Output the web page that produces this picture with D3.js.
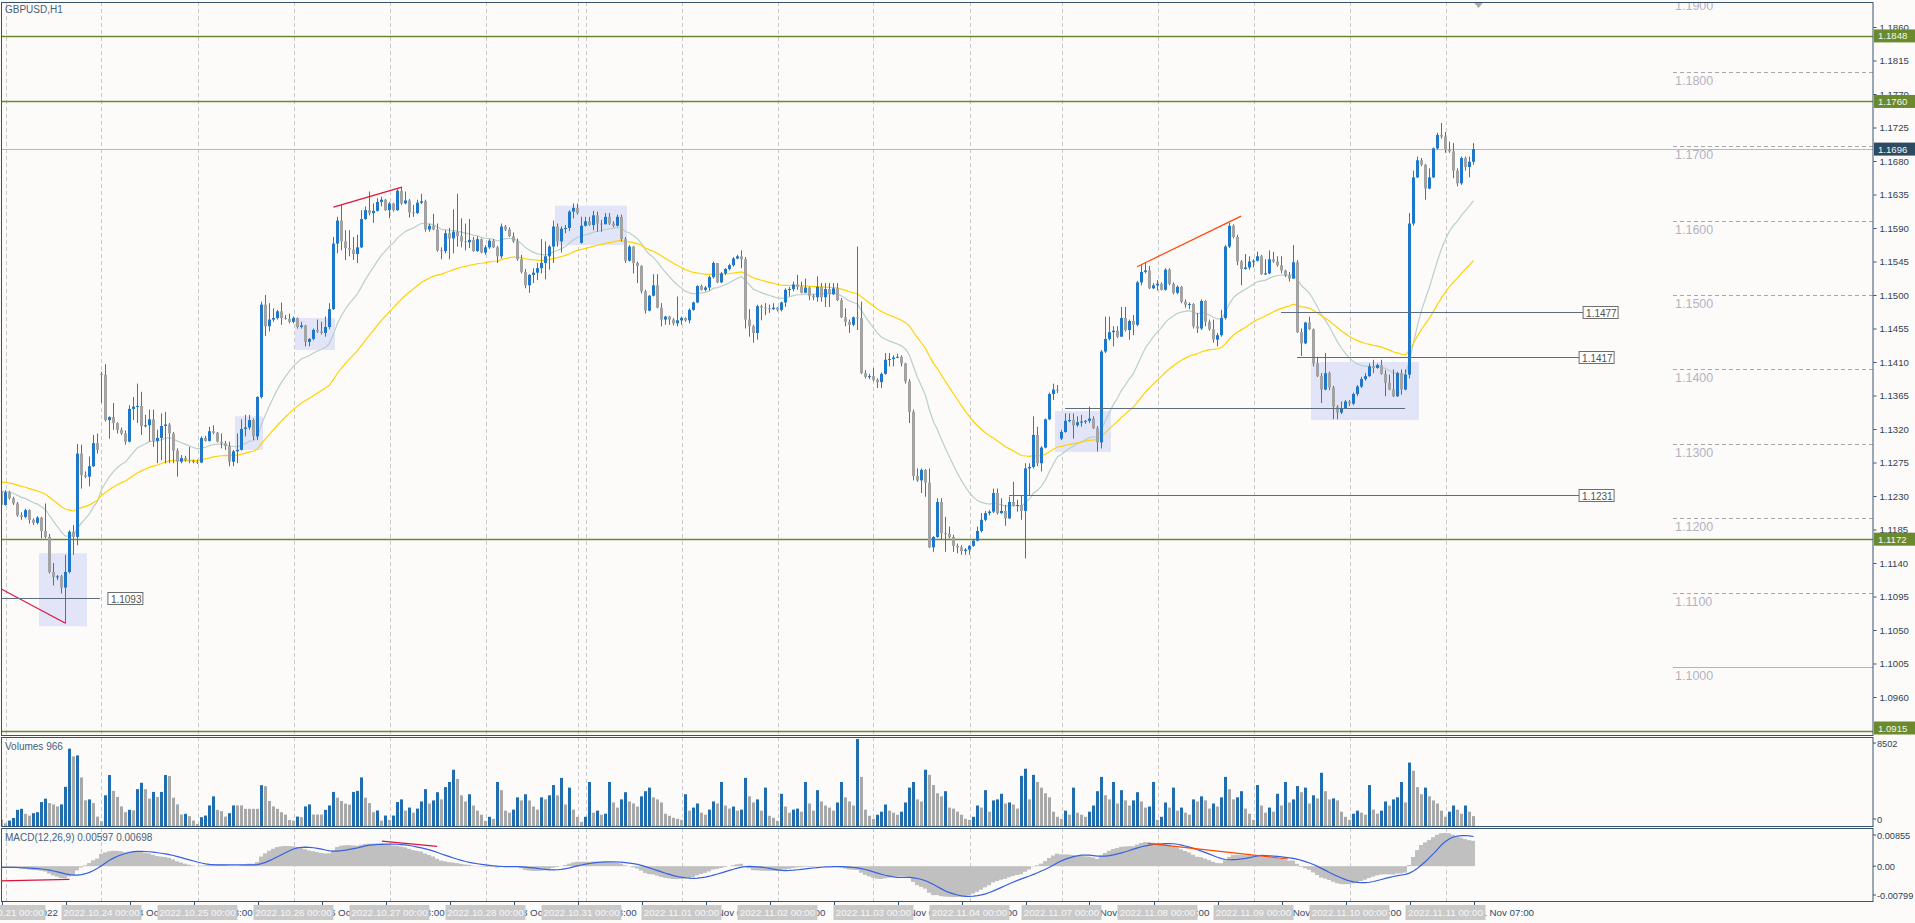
<!DOCTYPE html>
<html><head><meta charset="utf-8">
<script src="https://cdn.jsdelivr.net/npm/d3@7"></script>
<style>
html,body{margin:0;padding:0;background:#fdfbfa;overflow:hidden}
svg{display:block}
text{font-family:"Liberation Sans",Arial,sans-serif}
</style></head><body>
<svg id="c" width="1915" height="923"></svg>
<script>
// ---------------- DATA ----------------
const symbolTitle = "GBPUSD,H1";
const volTitle = "Volumes 966";
const macdTitle = "MACD(12,26,9) 0.00597 0.00698";
const firstOpen = 1.1236;
const gapOpens = {25:1.1394, 145:1.1570, 265:1.1307};
const closes = [
1.1218,1.1235,1.1227,1.1220,1.1204,1.1202,1.1211,1.1198,1.1194,1.1201,
1.1183,1.1175,1.1128,1.1121,1.1122,1.1107,1.1128,1.1182,1.1175,1.1287,
1.1258,1.1256,1.1270,1.1301,1.1292,1.1393,1.1332,1.1336,1.1328,1.1319,
1.1314,1.1303,1.1347,1.1350,1.1351,1.1324,1.1325,1.1333,1.1304,1.1308,
1.1324,1.1326,1.1314,1.1291,1.1276,1.1281,1.1278,1.1277,1.1276,1.1275,
1.1308,1.1304,1.1317,1.1315,1.1303,1.1301,1.1297,1.1276,1.1290,1.1292,
1.1320,1.1322,1.1332,1.1310,1.1363,1.1487,1.1458,1.1467,1.1469,1.1478,
1.1469,1.1468,1.1464,1.1469,1.1457,1.1459,1.1437,1.1441,1.1453,1.1451,
1.1449,1.1457,1.1481,1.1569,1.1600,1.1572,1.1563,1.1561,1.1555,1.1564,
1.1602,1.1614,1.1610,1.1613,1.1625,1.1628,1.1614,1.1623,1.1614,1.1640,
1.1623,1.1627,1.1611,1.1610,1.1624,1.1626,1.1588,1.1593,1.1588,1.1560,
1.1559,1.1583,1.1576,1.1585,1.1579,1.1572,1.1571,1.1574,1.1559,1.1575,
1.1557,1.1564,1.1573,1.1564,1.1552,1.1592,1.1588,1.1579,1.1572,1.1548,
1.1531,1.1513,1.1527,1.1530,1.1536,1.1543,1.1552,1.1565,1.1592,1.1572,
1.1589,1.1590,1.1612,1.1617,1.1610,1.1593,1.1599,1.1594,1.1607,1.1596,
1.1595,1.1605,1.1596,1.1593,1.1605,1.1575,1.1546,1.1565,1.1543,1.1539,
1.1505,1.1479,1.1499,1.1513,1.1483,1.1467,1.1471,1.1467,1.1462,1.1466,
1.1469,1.1466,1.1480,1.1490,1.1512,1.1507,1.1510,1.1524,1.1543,1.1517,
1.1529,1.1535,1.1540,1.1549,1.1552,1.1548,1.1467,1.1458,1.1449,1.1485,
1.1483,1.1482,1.1481,1.1483,1.1480,1.1490,1.1507,1.1508,1.1514,1.1511,
1.1503,1.1510,1.1499,1.1497,1.1511,1.1497,1.1508,1.1501,1.1509,1.1493,
1.1470,1.1464,1.1460,1.1470,1.1469,1.1395,1.1390,1.1391,1.1386,1.1383,
1.1394,1.1413,1.1414,1.1416,1.1417,1.1408,1.1384,1.1343,1.1257,1.1251,
1.1265,1.1248,1.1161,1.1175,1.1222,1.1180,1.1179,1.1175,1.1163,1.1161,
1.1156,1.1158,1.1163,1.1170,1.1183,1.1198,1.1207,1.1209,1.1234,1.1207,
1.1210,1.1200,1.1222,1.1217,1.1218,1.1210,1.1267,1.1269,1.1312,1.1274,
1.1295,1.1333,1.1367,1.1373,1.1372,1.1316,1.1331,1.1332,1.1325,1.1329,
1.1330,1.1331,1.1334,1.1321,1.1302,1.1424,1.1441,1.1450,1.1452,1.1444,
1.1469,1.1453,1.1465,1.1460,1.1517,1.1531,1.1533,1.1509,1.1513,1.1515,
1.1507,1.1534,1.1515,1.1503,1.1511,1.1491,1.1487,1.1488,1.1458,1.1455,
1.1492,1.1464,1.1454,1.1440,1.1446,1.1469,1.1565,1.1593,1.1578,1.1545,
1.1535,1.1537,1.1545,1.1546,1.1552,1.1528,1.1529,1.1548,1.1545,1.1540,
1.1533,1.1526,1.1522,1.1544,1.1450,1.1435,1.1463,1.1454,1.1408,1.1391,
1.1373,1.1395,1.1376,1.1350,1.1342,1.1347,1.1357,1.1354,1.1367,1.1377,
1.1387,1.1391,1.1404,1.1402,1.1406,1.1394,1.1382,1.1373,1.1364,1.1395,
1.1373,1.1393,1.1596,1.1658,1.1681,1.1675,1.1643,1.1658,1.1697,1.1715,
1.1713,1.1695,1.1693,1.1667,1.1650,1.1684,1.1672,1.1679,1.1696];
const highs = [
1.1238,1.1238,1.1237,1.1229,1.1222,1.1208,1.1213,1.1212,1.1200,1.1203,
1.1202,1.1220,1.1179,1.1140,1.1124,1.1124,1.1151,1.1184,1.1191,1.1300,
1.1299,1.1263,1.1283,1.1312,1.1314,1.1397,1.1407,1.1337,1.1355,1.1329,
1.1322,1.1318,1.1352,1.1363,1.1381,1.1370,1.1339,1.1346,1.1346,1.1319,
1.1341,1.1343,1.1328,1.1316,1.1294,1.1285,1.1284,1.1296,1.1279,1.1279,
1.1310,1.1311,1.1323,1.1325,1.1316,1.1314,1.1304,1.1303,1.1292,1.1314,
1.1333,1.1339,1.1339,1.1334,1.1364,1.1491,1.1500,1.1489,1.1482,1.1480,
1.1490,1.1473,1.1475,1.1471,1.1470,1.1464,1.1460,1.1442,1.1455,1.1467,
1.1464,1.1471,1.1489,1.1578,1.1605,1.1621,1.1587,1.1587,1.1578,1.1581,
1.1614,1.1619,1.1639,1.1623,1.1630,1.1632,1.1629,1.1625,1.1624,1.1642,
1.1645,1.1639,1.1629,1.1621,1.1628,1.1636,1.1628,1.1596,1.1609,1.1596,
1.1564,1.1587,1.1590,1.1615,1.1636,1.1603,1.1596,1.1602,1.1578,1.1579,
1.1576,1.1567,1.1575,1.1575,1.1566,1.1596,1.1594,1.1591,1.1584,1.1576,
1.1554,1.1535,1.1528,1.1536,1.1543,1.1575,1.1572,1.1567,1.1600,1.1596,
1.1592,1.1594,1.1614,1.1623,1.1623,1.1605,1.1605,1.1605,1.1613,1.1612,
1.1601,1.1610,1.1610,1.1599,1.1608,1.1608,1.1578,1.1567,1.1566,1.1545,
1.1540,1.1507,1.1500,1.1528,1.1528,1.1489,1.1472,1.1472,1.1469,1.1498,
1.1471,1.1470,1.1482,1.1491,1.1513,1.1514,1.1512,1.1526,1.1545,1.1542,
1.1531,1.1536,1.1542,1.1551,1.1554,1.1560,1.1551,1.1481,1.1460,1.1487,
1.1487,1.1489,1.1487,1.1489,1.1484,1.1491,1.1509,1.1511,1.1518,1.1527,
1.1518,1.1522,1.1511,1.1501,1.1525,1.1516,1.1516,1.1516,1.1516,1.1516,
1.1496,1.1482,1.1467,1.1471,1.1565,1.1491,1.1399,1.1394,1.1402,1.1388,
1.1396,1.1422,1.1422,1.1419,1.1421,1.1419,1.1409,1.1387,1.1346,1.1267,
1.1267,1.1266,1.1267,1.1176,1.1227,1.1227,1.1202,1.1189,1.1178,1.1166,
1.1164,1.1160,1.1164,1.1172,1.1189,1.1207,1.1210,1.1211,1.1240,1.1240,
1.1227,1.1218,1.1229,1.1249,1.1225,1.1231,1.1274,1.1274,1.1337,1.1323,
1.1297,1.1334,1.1369,1.1381,1.1379,1.1319,1.1341,1.1341,1.1341,1.1337,
1.1339,1.1332,1.1350,1.1337,1.1324,1.1426,1.1471,1.1471,1.1458,1.1458,
1.1484,1.1484,1.1467,1.1473,1.1519,1.1540,1.1543,1.1539,1.1516,1.1520,
1.1517,1.1536,1.1536,1.1517,1.1513,1.1512,1.1494,1.1490,1.1489,1.1476,
1.1494,1.1493,1.1467,1.1467,1.1449,1.1480,1.1567,1.1597,1.1595,1.1581,
1.1547,1.1555,1.1552,1.1548,1.1558,1.1554,1.1548,1.1560,1.1558,1.1552,
1.1552,1.1534,1.1531,1.1567,1.1547,1.1455,1.1464,1.1471,1.1455,1.1417,
1.1395,1.1422,1.1397,1.1378,1.1352,1.1357,1.1359,1.1359,1.1369,1.1379,
1.1390,1.1395,1.1408,1.1413,1.1408,1.1413,1.1399,1.1393,1.1400,1.1397,
1.1400,1.1400,1.1610,1.1667,1.1686,1.1684,1.1676,1.1670,1.1698,1.1718,
1.1731,1.1719,1.1706,1.1704,1.1670,1.1686,1.1686,1.1686,1.1704];
const lows = [
1.1216,1.1217,1.1225,1.1218,1.1202,1.1198,1.1200,1.1193,1.1191,1.1192,
1.1173,1.1173,1.1126,1.1110,1.1117,1.1099,1.1059,1.1126,1.1151,1.1164,
1.1240,1.1254,1.1243,1.1269,1.1287,1.1355,1.1330,1.1307,1.1319,1.1314,
1.1312,1.1299,1.1302,1.1332,1.1328,1.1312,1.1322,1.1303,1.1296,1.1274,
1.1278,1.1274,1.1274,1.1274,1.1256,1.1274,1.1276,1.1274,1.1274,1.1273,
1.1274,1.1303,1.1303,1.1313,1.1302,1.1294,1.1292,1.1270,1.1270,1.1274,
1.1291,1.1310,1.1319,1.1305,1.1305,1.1361,1.1445,1.1451,1.1464,1.1467,
1.1460,1.1467,1.1462,1.1462,1.1455,1.1455,1.1431,1.1431,1.1439,1.1449,
1.1447,1.1444,1.1454,1.1480,1.1556,1.1560,1.1547,1.1552,1.1547,1.1543,
1.1563,1.1601,1.1607,1.1597,1.1612,1.1619,1.1613,1.1603,1.1612,1.1613,
1.1621,1.1622,1.1604,1.1605,1.1609,1.1622,1.1585,1.1585,1.1587,1.1558,
1.1548,1.1556,1.1548,1.1556,1.1565,1.1564,1.1560,1.1563,1.1558,1.1558,
1.1556,1.1554,1.1562,1.1563,1.1543,1.1549,1.1586,1.1578,1.1570,1.1546,
1.1529,1.1509,1.1503,1.1516,1.1520,1.1529,1.1521,1.1534,1.1543,1.1565,
1.1557,1.1583,1.1586,1.1603,1.1608,1.1569,1.1592,1.1593,1.1587,1.1585,
1.1585,1.1595,1.1594,1.1591,1.1592,1.1572,1.1543,1.1545,1.1529,1.1516,
1.1502,1.1475,1.1478,1.1498,1.1482,1.1458,1.1460,1.1460,1.1459,1.1458,
1.1460,1.1464,1.1462,1.1479,1.1489,1.1506,1.1505,1.1506,1.1522,1.1516,
1.1516,1.1527,1.1533,1.1538,1.1548,1.1536,1.1455,1.1444,1.1436,1.1440,
1.1466,1.1473,1.1476,1.1480,1.1478,1.1478,1.1484,1.1498,1.1505,1.1507,
1.1502,1.1503,1.1493,1.1493,1.1491,1.1491,1.1484,1.1484,1.1500,1.1492,
1.1469,1.1458,1.1449,1.1458,1.1453,1.1394,1.1388,1.1387,1.1384,1.1375,
1.1375,1.1393,1.1404,1.1404,1.1415,1.1404,1.1381,1.1328,1.1251,1.1249,
1.1234,1.1229,1.1160,1.1155,1.1174,1.1171,1.1155,1.1173,1.1155,1.1153,
1.1151,1.1151,1.1151,1.1162,1.1169,1.1181,1.1196,1.1204,1.1207,1.1205,
1.1206,1.1190,1.1199,1.1216,1.1209,1.1198,1.1146,1.1231,1.1267,1.1270,
1.1263,1.1294,1.1332,1.1359,1.1368,1.1305,1.1315,1.1329,1.1307,1.1323,
1.1323,1.1327,1.1328,1.1320,1.1290,1.1294,1.1422,1.1439,1.1431,1.1442,
1.1444,1.1451,1.1440,1.1446,1.1458,1.1513,1.1529,1.1508,1.1508,1.1506,
1.1506,1.1506,1.1513,1.1501,1.1501,1.1489,1.1483,1.1481,1.1455,1.1449,
1.1453,1.1458,1.1452,1.1436,1.1431,1.1444,1.1467,1.1563,1.1576,1.1540,
1.1513,1.1534,1.1534,1.1537,1.1545,1.1527,1.1527,1.1528,1.1543,1.1538,
1.1529,1.1524,1.1518,1.1522,1.1449,1.1418,1.1434,1.1453,1.1404,1.1390,
1.1355,1.1372,1.1372,1.1333,1.1333,1.1340,1.1348,1.1351,1.1352,1.1364,
1.1375,1.1385,1.1390,1.1395,1.1401,1.1393,1.1364,1.1372,1.1363,1.1363,
1.1366,1.1372,1.1388,1.1593,1.1657,1.1673,1.1628,1.1642,1.1657,1.1695,
1.1710,1.1691,1.1691,1.1657,1.1646,1.1648,1.1667,1.1658,1.1675];
const volumes = [
630,260,530,790,1580,1680,1190,1020,1250,1350,2340,2670,2240,2110,1910,2110,3830,7560,6800,6900,4750,2510,2600,2240,920,
460,3000,4980,3430,2840,1910,1350,1580,1520,3600,4220,3600,2670,3330,2840,3330,4980,4880,2770,2110,1120,1190,960,530,
200,860,1020,2010,2900,1580,1450,920,1250,2010,2010,2010,1680,1680,1680,1680,3990,3890,2440,1910,1680,1350,1120,590,
530,920,860,1910,2110,1120,1120,1120,1580,2010,3330,2770,2440,2180,2080,3330,3430,4750,2770,2240,1350,1520,530,1020,
590,1020,2340,2600,1500,1800,1300,1700,2400,3600,2200,2500,3300,2600,3800,4300,5500,4600,3000,2400,3100,2000,1500,1100,
500,900,700,4300,3500,1500,1300,1600,2800,2500,3100,2500,1900,1600,2800,2600,3000,4000,3000,4700,2100,3750,1600,900,
400,900,4300,1300,1500,1100,1200,4300,2300,1800,2600,3300,2400,2200,1900,2900,3400,3750,2800,2600,2300,1200,1000,800,700,
600,3100,1500,1800,2200,1300,1100,1600,2400,2200,4300,2000,1700,1900,1500,1600,4700,2900,2300,2600,1500,3750,1000,800,
500,3150,1900,1300,1600,1700,1400,4300,2200,1500,3500,2400,2000,1800,1500,2300,4300,2800,2400,2000,8502,4800,1600,1000,
700,1100,1400,2100,1500,1300,1100,1400,2300,3750,4300,2600,2400,5500,5000,4000,3200,2900,3400,1800,1700,1400,1100,700,
600,900,2000,1800,3500,1400,2500,2600,3150,2200,2300,2100,1700,4900,5600,2600,5000,4300,3750,3200,2800,1400,900,
700,1500,1100,3750,1300,1100,900,1400,2000,3400,4800,3000,2600,4300,2200,3500,2500,2000,2500,3300,2400,1800,1900,4300,
600,900,2300,1800,3750,1500,1800,1300,1100,2600,2400,2900,2500,1700,2200,1900,2800,4800,3600,2600,2800,3400,1700,1200,
600,4000,2000,1300,1800,1400,3150,2000,4300,2300,2600,3900,3300,3750,2200,3000,2700,5200,3400,2600,2700,2500,1400,900,
600,1200,1500,1300,1100,4000,1600,1200,1500,2400,2000,2600,2800,4300,2300,6200,5400,3800,3100,3750,2900,2500,2200,1500,
900,1400,2000,1600,1200,2000,1400,966];

// time axis: day starts (bar index) and their vertical-line labels
const dayStartIdx = [1,25,49,73,97,121,145,170,194,218,242,265,289,313,337,361];
const dayStartLabels = ["2022.10.21 00:00","2022.10.24 00:00","2022.10.25 00:00","2022.10.26 00:00","2022.10.27 00:00","2022.10.28 00:00","2022.10.31 00:00","2022.11.01 00:00","2022.11.02 00:00","2022.11.03 00:00","2022.11.04 00:00","2022.11.07 00:00","2022.11.08 00:00","2022.11.09 00:00","2022.11.10 00:00","2022.11.11 00:00"];
const gridIdx = [1,25,49,73,97,121,144,146,170,194,218,242,265,289,313,337,361];
const timeTickIdx = [0,16,32,48,64,80,96,112,128,144,160,176,192,208,224,240,256,272,288,304,320,336,352,368];
const timeTickLabels = ["21 Oct 2022","21 Oct 15:00","24 Oct 07:00","24 Oct 23:00","25 Oct 15:00","26 Oct 07:00","26 Oct 23:00","27 Oct 15:00","28 Oct 07:00","28 Oct 23:00","31 Oct 15:00","1 Nov 06:00","1 Nov 22:00","2 Nov 14:00","3 Nov 06:00","3 Nov 22:00","4 Nov 14:00","7 Nov 07:00","7 Nov 23:00","8 Nov 15:00","9 Nov 07:00","9 Nov 23:00","10 Nov 15:00","11 Nov 07:00"];

// price axis
const priceTicks = [1.1860,1.1815,1.1770,1.1725,1.1680,1.1635,1.1590,1.1545,1.1500,1.1455,1.1410,1.1365,1.1320,1.1275,1.1230,1.1185,1.1140,1.1095,1.1050,1.1005,1.0960];
const greenLevels = [1.1848,1.1760,1.1172,1.0915];
const bidPrice = 1.1696;
const roundLevels = [1.19,1.18,1.17,1.16,1.15,1.14,1.13,1.12,1.11,1.10];
const roundSolid = [1.10];
const volMax = 8502;
const macdMax = 0.00855, macdMin = -0.00799;

// indicator settings and seeds
const maFastPeriod = 20, maSlowPeriod = 50;
const maFastSeed = 1.1238, maSlowSeed = 1.1250;
const macdFast = 12, macdSlow = 26, macdSignal = 9;
const macdFastSeed = 1.1232, macdSlowSeed = 1.1234;

// annotations (bar index, price)
const boxes = [[9.5,21.5,1.1153,1.1055],[58.5,65.5,1.1337,1.1292],[73.5,83.5,1.1469,1.1426],[138.5,156.5,1.1620,1.1567],[263.5,277.5,1.1344,1.1289],[327.5,354.5,1.1410,1.1332]];
const trendLines = [[-0.4,1.1106,16,1.1059,"#dc143c"],[83,1.1618,100.1,1.1645,"#dc143c"],[283.9,1.1538,309.9,1.1606,"#ff4500"]];
const hLines = [[1.1093,-0.4,24.6,"1.1093",26.6],[1.1231,251.9,394.4,"1.1231",394.4],[1.1477,319.9,395.4,"1.1477",395.4],[1.1417,323.9,394.4,"1.1417",394.4],[1.1348,265.9,350.9,"",0]];
const macdLines = [[-0.4,-0.0035,17,-0.0031,"#dc143c"],[95.1,0.0059,108.9,0.0047,"#dc143c"],[286.6,0.0054,321.6,0.0017,"#ff4500"]];

// ---------------- DRAW ----------------
const opens = closes.map((c,i)=> i===0 ? firstOpen : (gapOpens[i]!==undefined ? gapOpens[i] : closes[i-1]));
const bars = closes.map((c,i)=>({i, o:opens[i], c, h:Math.max(highs[i],opens[i],c), l:Math.min(lows[i],opens[i],c), v:volumes[i]}));

function ema(arr, p, seed){ const a=2/(p+1); let e=seed; return arr.map(v=> (e = e + a*(v-e))); }
const maFast = ema(closes, maFastPeriod, maFastSeed);
const maSlow = ema(closes, maSlowPeriod, maSlowSeed);
const e12 = ema(closes, macdFast, macdFastSeed), e26 = ema(closes, macdSlow, macdSlowSeed);
const macd = e12.map((v,i)=> v - e26[i]);
const signal = macd.map((v,i)=> d3.mean(macd.slice(Math.max(0,i-macdSignal+1), i+1)));

const R = 1873;
const P = {main:[2,735], vol:[737,826], macd:[828,901]};
const x = d3.scaleLinear().domain([0,368]).range([1.5,1473.5]);
const y = d3.scaleLinear().domain([1.0915,1.1860]).range([730.5,27]);
const yv = d3.scaleLinear().domain([0,volMax]).range([826,739]);
const ym = d3.scaleLinear().domain([macdMin,macdMax]).range([900,830]);

const svg = d3.select('#c');
svg.append('rect').attr('width',1915).attr('height',923).attr('fill','#fdfbfa');
const defs = svg.append('defs');
Object.entries(P).forEach(([k,[a,b]])=>{
  defs.append('clipPath').attr('id','clip-'+k).append('rect').attr('x',1).attr('y',a).attr('width',R-1).attr('height',b-a);
});
const gMain = svg.append('g').attr('clip-path','url(#clip-main)');
const gVol = svg.append('g').attr('clip-path','url(#clip-vol)');
const gMacd = svg.append('g').attr('clip-path','url(#clip-macd)');

// vertical grid
[[gMain,'main'],[gVol,'vol'],[gMacd,'macd']].forEach(([g,k])=>{
  g.selectAll('line.grid').data(gridIdx).enter().append('line')
   .attr('x1',d=>Math.round(x(d))+0.5).attr('x2',d=>Math.round(x(d))+0.5)
   .attr('y1',P[k][0]).attr('y2',P[k][1]).attr('stroke','#c9c9c9').attr('stroke-dasharray','4,3');
});

// round levels (right side)
roundLevels.forEach(p=>{
  const yy = Math.round(y(p))+0.5;
  const solid = roundSolid.indexOf(p)>=0;
  gMain.append('line').attr('x1',1673).attr('x2',R).attr('y1',yy).attr('y2',yy)
    .attr('stroke', solid ? '#b4b4b4':'#a8a8a8').attr('stroke-dasharray', solid? null : '4,3');
  gMain.append('text').attr('x',1675).attr('y',yy+12).text(p.toFixed(4))
    .attr('font-size',12.5).attr('fill','#b3b3c3');
});

// lavender boxes
gMain.selectAll('rect.box').data(boxes).enter().append('rect')
  .attr('x',d=>x(d[0])-0.5).attr('width',d=>x(d[1])-x(d[0]))
  .attr('y',d=>y(d[2])).attr('height',d=>y(d[3])-y(d[2]))
  .attr('fill','#e2e4f7');

// green levels and bid line
greenLevels.forEach(p=>{
  const yy = Math.round(y(p))+0.5;
  gMain.append('line').attr('x1',0).attr('x2',R).attr('y1',yy).attr('y2',yy).attr('stroke','#6b8a2e').attr('stroke-width',1.3);
});
{ const yy=Math.round(y(bidPrice))+0.5;
  gMain.append('line').attr('x1',0).attr('x2',R).attr('y1',yy).attr('y2',yy).attr('stroke','#b9b9b9'); }

// moving averages
const line = d3.line().x((d,i)=>x(i)).y(d=>y(d));
gMain.append('path').attr('d',line(maFast)).attr('fill','none').attr('stroke','#b8cfcb').attr('stroke-width',1.2);
gMain.append('path').attr('d',line(maSlow)).attr('fill','none').attr('stroke','#ffd200').attr('stroke-width',1.2);

// candles
const cg = gMain.append('g');
cg.selectAll('line.w').data(bars).enter().append('line')
  .attr('x1',d=>Math.floor(x(d.i))+0.5).attr('x2',d=>Math.floor(x(d.i))+0.5)
  .attr('y1',d=>y(d.h)).attr('y2',d=>y(d.l)).attr('stroke','#646b72');
cg.selectAll('rect.b').data(bars).enter().append('rect')
  .attr('x',d=>Math.floor(x(d.i))-1).attr('width',3)
  .attr('y',d=>y(Math.max(d.o,d.c))).attr('height',d=>Math.max(1,Math.abs(y(d.o)-y(d.c))))
  .attr('fill',d=> d.c>d.o ? '#1f77c9' : '#a3a3a3');

// trend lines
trendLines.forEach(t=>{
  gMain.append('line').attr('x1',x(t[0])).attr('y1',y(t[1])).attr('x2',x(t[2])).attr('y2',y(t[3]))
    .attr('stroke',t[4]).attr('stroke-width',1.2);
});
// labelled horizontal lines
hLines.forEach(h=>{
  const yy = Math.round(y(h[0]))+0.5;
  gMain.append('line').attr('x1',x(h[1])).attr('x2',x(h[2])).attr('y1',yy).attr('y2',yy).attr('stroke','#5c6d7e').attr('stroke-width',1.2);
  if(h[3]){
    const lx = x(h[4]);
    gMain.append('rect').attr('x',lx).attr('y',yy-6).attr('width',35).attr('height',12)
      .attr('fill','#ffffff').attr('stroke','#6e6e6e');
    gMain.append('text').attr('x',lx+3).attr('y',yy+4).text(h[3]).attr('font-size',10).attr('fill','#505050');
  }
});
// chart shift marker
gMain.append('path').attr('d',`M${x(368)},2 l10,0 l-5,6 z`).attr('fill','#a9a9a9');

// volumes
gVol.selectAll('rect.v').data(bars).enter().append('rect')
  .attr('x',d=>Math.floor(x(d.i))-1).attr('width',3)
  .attr('y',d=>yv(d.v)).attr('height',d=>yv(0)-yv(d.v))
  .attr('fill',(d,i)=> i>0 && d.v>volumes[i-1] ? '#1f6cae' : '#a8a8a8');

// MACD histogram + signal
gMacd.selectAll('rect.m').data(macd).enter().append('rect')
  .attr('x',(d,i)=>Math.floor(x(i))-2).attr('width',4)
  .attr('y',d=>Math.min(ym(0),ym(d))).attr('height',d=>Math.abs(ym(d)-ym(0)))
  .attr('fill','#c0c0c0');
gMacd.append('path').attr('d',d3.line().x((d,i)=>x(i)).y(d=>ym(d))(signal))
  .attr('fill','none').attr('stroke','#3560e0').attr('stroke-width',1.2);
macdLines.forEach(t=>{
  gMacd.append('line').attr('x1',x(t[0])).attr('y1',ym(t[1])).attr('x2',x(t[2])).attr('y2',ym(t[3]))
    .attr('stroke',t[4]).attr('stroke-width',1.2);
});

// frames
Object.values(P).forEach(([a,b])=>{
  svg.append('rect').attr('x',1.5).attr('y',a+0.5).attr('width',R-1.5).attr('height',b-a)
    .attr('fill','none').attr('stroke','#36536e');
});

// titles
svg.append('text').attr('x',5).attr('y',13).text(symbolTitle).attr('font-size',10).attr('fill','#45607c');
svg.append('text').attr('x',5).attr('y',750).text(volTitle).attr('font-size',10).attr('fill','#45607c');
svg.append('text').attr('x',5).attr('y',841).text(macdTitle).attr('font-size',10).attr('fill','#45607c');

// price axis
const ax = svg.append('g').attr('transform',`translate(${R+0.5},0)`)
  .call(d3.axisRight(y).tickValues(priceTicks).tickFormat(d3.format('.4f')).tickSize(3).tickPadding(3));
ax.select('.domain').remove();
ax.selectAll('line').attr('stroke','#36536e');
ax.selectAll('text').attr('font-size',9.6).attr('fill','#2e3f52').attr('font-family','"Liberation Sans",Arial,sans-serif');

function priceBox(p, yy, fill){
  svg.append('rect').attr('x',R+1).attr('y',yy-6.5).attr('width',41).attr('height',13).attr('fill',fill);
  svg.append('text').attr('x',R+5).attr('y',yy+3.5).text(p.toFixed(4)).attr('font-size',9.6).attr('fill','#f6f6ee');
}
greenLevels.forEach(p=>priceBox(p, Math.min(y(p), 728), '#6b8a2e'));
priceBox(bidPrice, y(bidPrice), '#2d4a63');

// volume / macd axes
function sideLabel(t, yy){
  svg.append('line').attr('x1',R).attr('x2',R+3).attr('y1',yy).attr('y2',yy).attr('stroke','#36536e');
  svg.append('text').attr('x',R+4).attr('y',yy+3.5).text(t).attr('font-size',9.2).attr('fill','#2e3f52');
}
sideLabel(String(volMax), yv(volMax)+4);
sideLabel('0', yv(0)-7);
sideLabel(macdMax.toFixed(5), ym(macdMax)+5);
sideLabel('0.00', ym(0));
sideLabel(macdMin.toFixed(5), ym(macdMin)-5);

// time axis
const tg = svg.append('g');
timeTickIdx.forEach((t,k)=>{
  const xx = Math.round(x(t))+0.5;
  tg.append('line').attr('x1',xx).attr('x2',xx).attr('y1',901).attr('y2',906).attr('stroke','#36536e');
  tg.append('text').attr('x',xx+2).attr('y',916).text(timeTickLabels[k]).attr('font-size',9.8).attr('fill','#2f4d6b');
});
dayStartIdx.forEach((d,k)=>{
  const xx = x(d);
  tg.append('rect').attr('x',xx-40).attr('y',905).attr('width',80).attr('height',15).attr('fill','#c9c9c9');
  tg.append('text').attr('x',xx).attr('y',916).attr('text-anchor','middle').text(dayStartLabels[k])
    .attr('font-size',9.8).attr('fill','#f7f7f7');
});
</script>
</body></html>
